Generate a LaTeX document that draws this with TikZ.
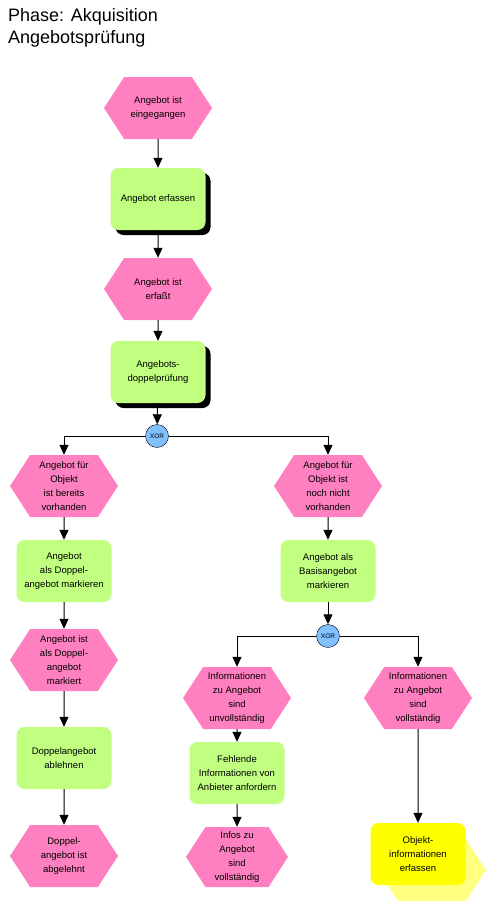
\documentclass[tikz,border=0pt]{standalone}
\usepackage{fontspec}
\setmainfont{Liberation Sans}
\usetikzlibrary{arrows.meta,shapes.symbols,shadows}

\definecolor{eventpink}{RGB}{255,128,192}
\definecolor{funcgreen}{RGB}{192,255,128}
\definecolor{xorblue}{RGB}{128,192,255}
\definecolor{objyellow}{RGB}{255,255,0}
\definecolor{paleyellow}{RGB}{255,255,128}

\begin{document}
\begin{tikzpicture}[x=1pt,y=-1pt,>={Triangle[length=10pt,width=9pt]},
  event/.style={signal,signal to=west and east,signal pointer angle=114,fill=eventpink,
    minimum width=108pt,minimum height=62pt,inner sep=0pt,align=center,
    font=\fontsize{9.5}{14}\selectfont},
  func/.style={rectangle,rounded corners=8pt,fill=funcgreen,minimum width=95pt,
    minimum height=62pt,inner sep=0pt,align=center,font=\fontsize{9.5}{14}\selectfont},
  shadowed/.style={drop shadow={shadow xshift=5pt,shadow yshift=-5pt,fill=black,opacity=1}},
  xor/.style={circle,draw,fill=xorblue,minimum size=23pt,inner sep=0pt,
    font=\fontsize{6.5}{7}\selectfont},
  flow/.style={->,line width=1pt}]
  \useasboundingbox (0,0) rectangle (500,907);

  % title
  \node[anchor=base west,font=\fontsize{18}{22}\selectfont,inner sep=0pt] (title1) at (8,22) {Phase: Akquisition};
  \node[anchor=base west,font=\fontsize{18}{22}\selectfont,inner sep=0pt] (title2) at (8,44) {Angebotsprüfung};

  % main column
  \node[event] (e1) at (158,108) {Angebot ist\\eingegangen};
  \node[func,shadowed] (f1) at (158,199) {Angebot erfassen};
  \node[event] (e2) at (158,289) {Angebot ist\\erfaßt};
  \node[func,shadowed] (f2) at (158,372) {Angebots-\\doppelprüfung};
  \node[xor] (x1) at (157,436) {XOR};

  % left branch
  \node[event] (e3) at (64,486) {Angebot für\\Objekt\\ist bereits\\vorhanden};
  \node[func] (f3) at (64,571) {Angebot\\als Doppel-\\angebot markieren};
  \node[event] (e4) at (64,660) {Angebot ist\\als Doppel-\\angebot\\markiert};
  \node[func] (f4) at (64,758) {Doppelangebot\\ablehnen};
  \node[event] (e5) at (64,856) {Doppel-\\angebot ist\\abgelehnt};

  % right branch
  \node[event] (e6) at (328,486) {Angebot für\\Objekt ist\\noch nicht\\vorhanden};
  \node[func] (f5) at (328,571) {Angebot als\\Basisangebot\\markieren};
  \node[xor] (x2) at (328,636) {XOR};
  \node[event] (e7) at (237,698) {Informationen\\zu Angebot\\sind\\unvollständig};
  \node[func] (f6) at (237,773) {Fehlende\\Informationen von\\Anbieter anfordern};
  \node[event,minimum width=102pt,minimum height=60pt] (e8) at (237,857) {Infos zu\\Angebot\\sind\\vollständig};
  \node[event] (e9) at (418,698) {Informationen\\zu Angebot\\sind\\vollständig};
  \node[event,fill=paleyellow] (p1) at (432,870) {};
  \node[func,fill=objyellow] (f7) at (418,854) {Objekt-\\informationen\\erfassen};

  \draw[flow] (e1) -- (f1);
  \draw[flow] (f1) -- (e2);
  \draw[flow] (e2) -- (f2);
  \draw[flow] (f2) -- (x1);
  \draw[flow] (x1.west) -| (e3.north);
  \draw[flow] (x1.east) -| (e6.north);
  \draw[flow] (e3) -- (f3);
  \draw[flow] (f3) -- (e4);
  \draw[flow] (e4) -- (f4);
  \draw[flow] (f4) -- (e5);
  \draw[flow] (e6) -- (f5);
  \draw[flow] (f5) -- (x2);
  \draw[flow] (x2.west) -| (e7.north);
  \draw[flow] (x2.east) -| (e9.north);
  \draw[flow] (e7) -- (f6);
  \draw[flow] (f6) -- (e8);
  \draw[flow] (e9) -- (f7);
\end{tikzpicture}
\end{document}
